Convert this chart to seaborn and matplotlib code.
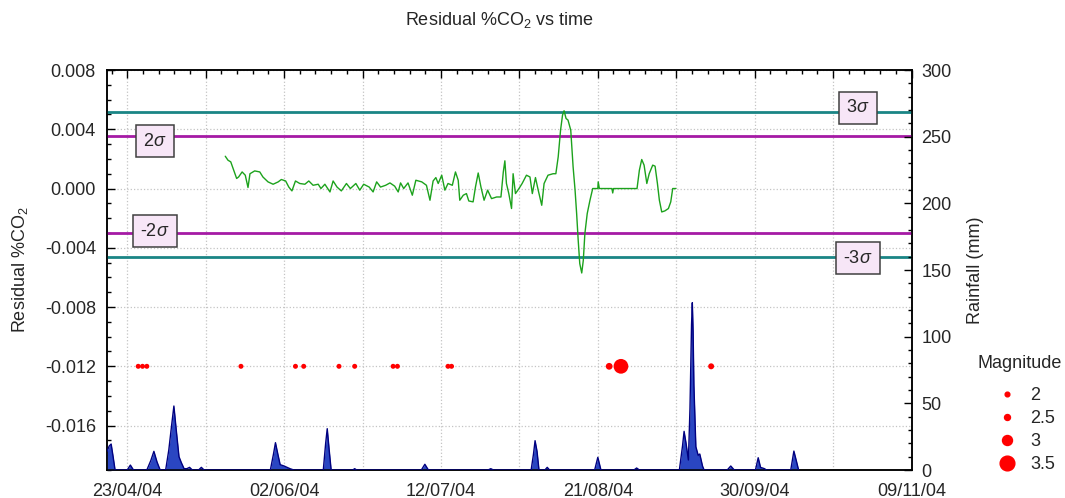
import matplotlib
matplotlib.use("Agg")   # no display
import matplotlib.pyplot as plt
import matplotlib.dates as mdates
import matplotlib.transforms as mtransforms
from matplotlib.lines import Line2D
from matplotlib.ticker import FixedLocator, MultipleLocator, FormatStrFormatter
import numpy as np
import pandas as pd
import seaborn as sns

# ---- data (days after 23/04/04) ----
start = pd.Timestamp("2004-04-23")

res_days = [25.0, 25.7, 26.4, 27.0, 27.9, 28.4, 29.3, 30.1, 30.8, 31.3, 32.5, 33.8,
            34.6, 35.9, 37.2, 38.5, 39.3, 40.4, 41.2, 42.0, 42.9, 44.0, 45.3, 46.3,
            47.4, 48.7, 49.4, 50.4, 51.7, 52.5, 53.5, 54.6, 55.9, 56.9, 58.3, 59.3,
            60.3, 61.7, 62.7, 63.6, 64.6, 65.9, 67.0, 68.2, 69.1, 69.7, 70.5, 71.6,
            72.7, 73.6, 75.1, 76.3, 77.2, 78.0, 78.7, 79.3, 80.2, 81.0, 81.8, 82.9,
            83.7, 84.4, 84.8, 85.7, 86.5, 87.1, 88.2, 88.8, 89.5, 90.2, 91.0, 91.9,
            92.9, 94.2, 95.3, 95.9, 96.3, 96.7, 97.3, 98.0, 98.4, 99.0, 99.9, 100.7,
            101.8, 102.7, 103.3, 104.1, 104.8, 105.7, 106.3, 107.3, 108.6, 109.3,
            109.9, 110.5, 111.0, 111.4, 111.9, 112.4, 113.1, 113.3, 113.7, 114.2,
            114.6, 115.0, 115.4, 115.9, 116.3, 116.7, 117.3, 118.0, 118.7, 120.0,
            120.1, 120.4, 123.6, 123.8, 124.0, 130.0, 130.6, 131.2, 131.8, 132.5,
            133.1, 134.0, 134.6, 135.2, 135.7, 136.3, 137.1, 138.0, 138.6, 139.1, 139.9]
res_vals = [0.00218, 0.00191, 0.00180, 0.00135, 0.00068, 0.00078, 0.00112, 0.00090,
            0.00007, 0.00100, 0.00119, 0.00112, 0.00078, 0.00045, 0.00029, 0.00045,
            0.00061, 0.00051, 0.00010, -0.00016, 0.00051, 0.00034, 0.00029, 0.00051,
            0.00022, 0.00029, 0.00000, 0.00029, -0.00023, 0.00051, 0.00010, -0.00016,
            0.00034, 0.00000, 0.00034, -0.00011, 0.00029, 0.00010, -0.00023, 0.00045,
            0.00010, 0.00022, 0.00038, 0.00016, -0.00023, 0.00038, 0.00000, 0.00038,
            -0.00045, 0.00056, 0.00045, 0.00022, -0.00079, 0.00051, 0.00074, 0.00034,
            0.00090, -0.00011, 0.00034, 0.00022, 0.00112, 0.00056, -0.00079, -0.00045,
            -0.00034, -0.00084, -0.00090, 0.00010, 0.00105, 0.00010, -0.00079, -0.00011,
            -0.00068, -0.00057, -0.00057, 0.00112, 0.00187, 0.00034, -0.00034, -0.00135,
            0.00100, -0.00034, 0.00000, 0.00034, 0.00090, 0.00078, -0.00034, 0.00074,
            -0.00011, -0.00113, 0.00034, 0.00090, 0.00100, 0.00100, 0.00214, 0.00394,
            0.00495, 0.00525, 0.00473, 0.00462, 0.00394, 0.00315, 0.00146, -0.00011,
            -0.00169, -0.00350, -0.00507, -0.00570, -0.00485, -0.00304, -0.00169,
            -0.00079, 0.00000, 0.00000, 0.00045, 0.00000, 0.00000, -0.00030, 0.00000,
            0.00000, 0.00124, 0.00196, 0.00158, 0.00034, 0.00100, 0.00158, 0.00151,
            0.00034, -0.00079, -0.00158, -0.00151, -0.00135, -0.00090, 0.00000, 0.00000]

rain_days = [-5.15, -4.6, -4.1, -3.6, -3.1,
             0.0, 0.8, 1.6,
             5.0, 6.0, 6.8, 7.6, 8.4,
             9.8, 10.6, 11.3, 11.9, 12.5, 13.2, 13.8, 14.5, 15.2, 15.9, 16.6,
             18.2, 18.9, 19.6,
             36.5, 37.3, 37.8, 38.4, 39.0, 40.0, 41.5, 42.5,
             50.0, 50.6, 51.0, 51.5, 52.0,
             57.5, 58.0, 58.5,
             75.0, 75.9, 76.8,
             92.0, 92.7, 93.4,
             103.0, 103.6, 104.0, 104.5, 105.0,
             106.5, 107.1, 107.7,
             119.2, 120.0, 120.8,
             129.2, 129.9, 130.6,
             140.8, 141.6, 142.0, 142.5, 143.1, 143.5, 143.7, 143.9, 144.1, 144.3,
             144.5, 145.0, 145.6, 146.0, 146.7, 147.1,
             153.0, 153.9, 154.8,
             160.2, 160.9, 161.5, 162.5, 163.0,
             169.2, 170.0, 170.7, 171.2]
rain_mm = [14, 18, 19.5, 10, 0,
           0, 3.7, 0,
           0, 7, 14, 6, 0,
           0, 15, 33, 48, 30, 10, 5.5, 1, 1, 2, 0,
           0, 2, 0,
           0, 12, 20.5, 12, 4, 3, 1, 0,
           0, 20, 31, 15, 0,
           0, 1, 0,
           0, 4.3, 0,
           0, 1, 0,
           0, 12, 22, 14, 0,
           0, 2, 0,
           0, 9.5, 0,
           0, 1.5, 0,
           0, 18, 29, 20, 7.5, 46, 77, 109, 125.5, 104,
           64, 17.5, 11, 12, 3, 0,
           0, 3, 0,
           0, 9.2, 2, 1, 0,
           0, 14.2, 6, 0]

quake_days = [2.8, 3.9, 5.0, 29.0, 42.9, 45.0, 54.0, 58.0, 67.8, 68.9, 81.8, 82.7,
              122.9, 125.9, 148.9]
quake_mag = [2.1, 2.1, 2.1, 2.1, 2.1, 2.1, 2.1, 2.1, 2.1, 2.1, 2.1, 2.1,
             2.6, 3.5, 2.5]
quake_level = -0.012

sigma_names = ["3σ", "2σ", "-2σ", "-3σ"]
sigma_vals = [0.00514, 0.00352, -0.00298, -0.00460]

legend_mags = [2, 2.5, 3, 3.5]
legend_diam = [3.4, 4.3, 7.2, 10.6]   # marker diameter in points, as drawn

# ---- style ----
sns.set_style("white")
plt.rcParams["font.family"] = ["Liberation Sans", "DejaVu Sans"]
plt.rcParams["mathtext.fontset"] = "custom"
plt.rcParams["mathtext.rm"] = "Liberation Sans"
plt.rcParams["mathtext.it"] = "Liberation Sans:italic"
plt.rcParams["axes.unicode_minus"] = False

FS = 13
teal = "#1a8585"
magenta = "#a51aa5"

to_dt = lambda days: [start + pd.Timedelta(days=d) for d in days]

fig = plt.figure(figsize=(10.65, 4.98), dpi=100)
ax = fig.add_axes([0.1005, 0.0562, 0.7554, 0.8032])
ax2 = ax.twinx()

# grid + sigma lines
ax.grid(True, which="major", linestyle=":", color="#c4c4c4", linewidth=0.9)
for v, c in zip(sigma_vals, [teal, magenta, magenta, teal]):
    ax.axhline(v, color=c, linewidth=2.0, zorder=3)

# residual line
sns.lineplot(x=to_dt(res_days), y=res_vals, ax=ax, estimator=None, sort=False,
             color="#1ca21c", linewidth=1.0, zorder=4)

# earthquakes
qsizes = {m: np.interp(m, legend_mags, legend_diam) ** 2 for m in set(quake_mag)}
sns.scatterplot(x=to_dt(quake_days), y=[quake_level] * len(quake_days), size=quake_mag,
                sizes=qsizes, ax=ax, color="#ff0000", edgecolor="none",
                legend=False, zorder=5)

# rainfall
rd = to_dt(rain_days)
ax2.fill_between(rd, 0, rain_mm, color="#2a46c2", linewidth=0, zorder=2)
ax2.plot(rd, rain_mm, color="#000080", linewidth=1.0, zorder=3)

# sigma labels
blend = mtransforms.blended_transform_factory(ax.transAxes, ax.transData)
box = dict(boxstyle="square,pad=0.42", facecolor="#f7e6f7", edgecolor="#404040", linewidth=1.1)
label_pos = [(0.9335, 0.00546), (0.0597, 0.00320), (0.0597, -0.00289), (0.9335, -0.00471)]
for name, (xf, yv) in zip(sigma_names, label_pos):
    txt = name.replace("σ", r"$\mathit{\sigma}$")
    ax.text(xf, yv, txt, transform=blend, ha="center", va="center", fontsize=FS,
            bbox=box, zorder=6)

# axes limits + ticks
ax.set_xlim(start - pd.Timedelta(days=5.15), start + pd.Timedelta(days=200))
ax.set_ylim(-0.019, 0.008)
ax2.set_ylim(0, 300)

major = [mdates.date2num(start + pd.Timedelta(days=20 * k)) for k in range(11)]
minor = [mdates.date2num(start + pd.Timedelta(days=4 * k)) for k in range(-1, 51)]
ax.xaxis.set_major_locator(FixedLocator(major))
ax.xaxis.set_minor_locator(FixedLocator(minor))
ax.set_xticklabels([(start + pd.Timedelta(days=20 * k)).strftime("%d/%m/%y") if k % 2 == 0 else ""
                    for k in range(11)])

ax.yaxis.set_major_locator(FixedLocator([-0.016, -0.012, -0.008, -0.004, 0.0, 0.004, 0.008]))
ax.yaxis.set_minor_locator(MultipleLocator(0.001))
ax.yaxis.set_major_formatter(FormatStrFormatter("%.3f"))
ax2.yaxis.set_major_locator(MultipleLocator(50))
ax2.yaxis.set_minor_locator(MultipleLocator(10))

ax.tick_params(axis="x", which="both", direction="in", top=True, labelsize=FS, pad=9)
ax.tick_params(axis="y", which="both", direction="in", right=False, labelsize=FS, pad=8)
ax.tick_params(which="major", length=6, width=1, color="black")
ax.tick_params(which="minor", length=3, width=1, color="black")
ax2.tick_params(axis="y", which="both", direction="in", labelsize=FS, pad=7, color="black")
ax2.tick_params(which="major", length=6, width=1)
ax2.tick_params(which="minor", length=3, width=1)

for a in (ax, ax2):
    for s in a.spines.values():
        s.set_color("black")
        s.set_linewidth(1.1)

ax.set_xlabel("")
ax.set_ylabel("Residual %CO$_2$", fontsize=FS)
ax.yaxis.set_label_coords(-0.096, 0.5)
ax2.set_ylabel("Rainfall (mm)", fontsize=FS)
ax2.yaxis.set_label_coords(1.069, 0.5)

fig.text(0.469, 0.96, "Residual %CO$_2$ vs time", ha="center", va="center", fontsize=FS)

# magnitude legend
fig.text(0.918, 1 - 364 / 498, "Magnitude", ha="left", va="center", fontsize=FS)
handles = [Line2D([], [], marker="o", linestyle="none", color="#ff0000", markersize=d)
           for d in legend_diam]
fig.legend(handles, [f"{m:g}" for m in legend_mags], loc="upper left",
           bbox_to_anchor=(0.918, 0.222), frameon=False, fontsize=FS,
           handlelength=3.2, handletextpad=-0.3, labelspacing=0.33,
           borderpad=0.0, borderaxespad=0.0)

fig.savefig("out.png", dpi=100)
